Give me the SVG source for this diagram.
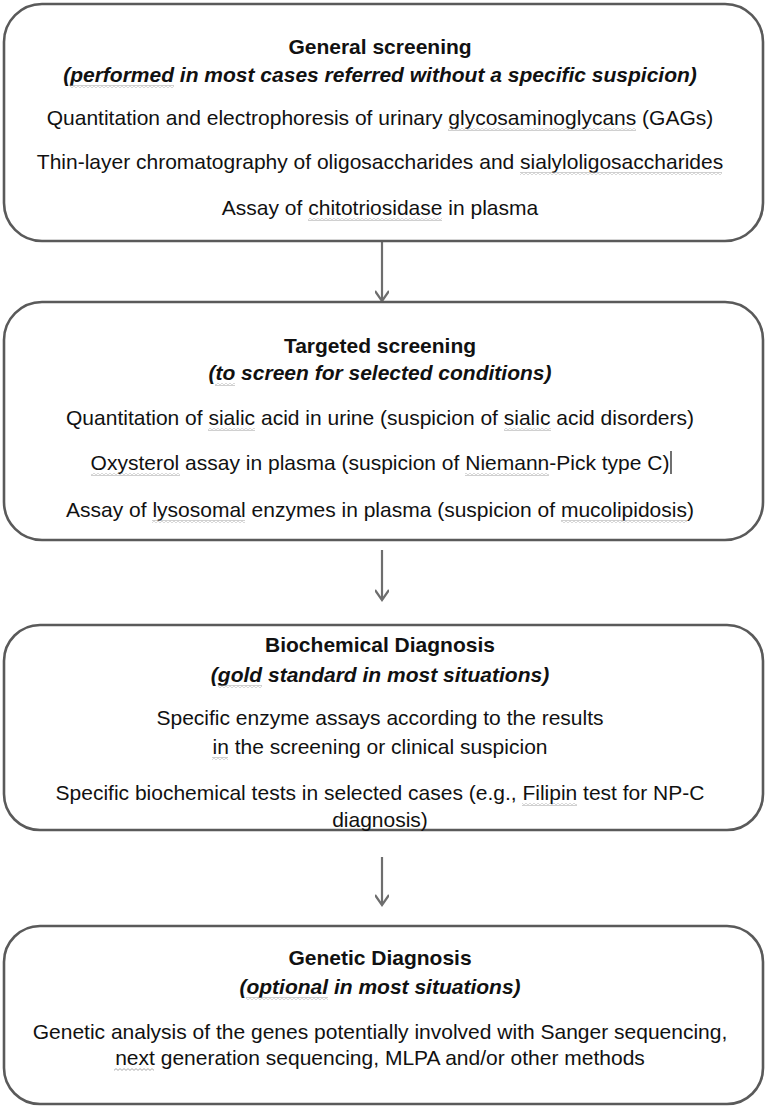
<svg xmlns="http://www.w3.org/2000/svg" width="769" height="1109" viewBox="0 0 769 1109">
<style>
.box{fill:#fff;stroke:#5a5a5a;stroke-width:2.6}
.t{font-family:"Liberation Sans",Arial,sans-serif;font-size:21px;fill:#111;text-anchor:middle}
.h{font-weight:bold}
.i{font-weight:bold;font-style:italic}
.conn{stroke:#6e6e6e;stroke-width:2.2;fill:none}
.sq{fill:url(#wavy)}
</style>
<defs>
<pattern id="wavy" patternUnits="userSpaceOnUse" width="4" height="3">
<path d="M0 0.6 L2 2.4 L4 0.6" fill="none" stroke="#a0a0a0" stroke-width="0.9"/>
</pattern>
<marker id="ah" markerWidth="16" markerHeight="14" refX="14" refY="7" orient="auto" markerUnits="userSpaceOnUse">
<path d="M4 0 L14 7 L4 14" fill="none" stroke="#6e6e6e" stroke-width="2.2"/>
</marker>
</defs>
<rect width="769" height="1109" fill="#fff"/>

<g id="connectors">
<line class="conn" x1="382" y1="241" x2="382" y2="301" marker-end="url(#ah)"/>
<line class="conn" x1="382" y1="550" x2="382" y2="600" marker-end="url(#ah)"/>
<line class="conn" x1="382" y1="857" x2="382" y2="905" marker-end="url(#ah)"/>
</g>

<g id="general-screening">
<rect class="box" x="4" y="4" width="759" height="237" rx="38" ry="38"/>
<text class="t h" x="380" y="54">General screening</text>
<text class="t i" x="380" y="82">(performed in most cases referred without a specific suspicion)</text>
<text class="t" x="380" y="125">Quantitation and electrophoresis of urinary glycosaminoglycans (GAGs)</text>
<text class="t" x="380" y="169">Thin-layer chromatography of oligosaccharides and sialyloligosaccharides</text>
<text class="t" x="380" y="215">Assay of chitotriosidase in plasma</text>
<rect class="sq" x="70" y="85" width="104" height="3"/>
<rect class="sq" x="448" y="128" width="188" height="3"/>
<rect class="sq" x="520" y="172" width="202" height="3"/>
<rect class="sq" x="308" y="218" width="134" height="3"/>
</g>

<g id="targeted-screening">
<rect class="box" x="4" y="302" width="759" height="238" rx="38" ry="38"/>
<text class="t h" x="380" y="353">Targeted screening</text>
<text class="t i" x="380" y="380">(to screen for selected conditions)</text>
<text class="t" x="380" y="425">Quantitation of sialic acid in urine (suspicion of sialic acid disorders)</text>
<text class="t" x="380" y="470">Oxysterol assay in plasma (suspicion of Niemann-Pick type C)</text>
<text class="t" x="380" y="517">Assay of lysosomal enzymes in plasma (suspicion of mucolipidosis)</text>
<line x1="671" y1="451" x2="671" y2="474" stroke="#111" stroke-width="1.2"/>
<rect class="sq" x="215" y="383" width="20" height="3"/>
<rect class="sq" x="208" y="428" width="47" height="3"/>
<rect class="sq" x="504" y="428" width="47" height="3"/>
<rect class="sq" x="91" y="473" width="89" height="3"/>
<rect class="sq" x="465" y="473" width="84" height="3"/>
<rect class="sq" x="152" y="520" width="93" height="3"/>
<rect class="sq" x="561" y="520" width="126" height="3"/>
</g>

<g id="biochemical-diagnosis">
<rect class="box" x="4" y="625" width="759" height="205" rx="36" ry="36"/>
<text class="t h" x="380" y="652">Biochemical Diagnosis</text>
<text class="t i" x="380" y="682">(gold standard in most situations)</text>
<text class="t" x="380" y="725">Specific enzyme assays according to the results</text>
<text class="t" x="380" y="754">in the screening or clinical suspicion</text>
<text class="t" x="380" y="800">Specific biochemical tests in selected cases (e.g., Filipin test for NP-C</text>
<text class="t" x="380" y="827">diagnosis)</text>
<rect class="sq" x="218" y="685" width="44" height="3"/>
<rect class="sq" x="212" y="757" width="16" height="3"/>
<rect class="sq" x="522" y="803" width="55" height="3"/>
</g>

<g id="genetic-diagnosis">
<rect class="box" x="4" y="926" width="759" height="178" rx="36" ry="36"/>
<text class="t h" x="380" y="965">Genetic Diagnosis</text>
<text class="t i" x="380" y="994">(optional in most situations)</text>
<text class="t" x="380" y="1039">Genetic analysis of the genes potentially involved with Sanger sequencing,</text>
<text class="t" x="380" y="1065">next generation sequencing, MLPA and/or other methods</text>
<rect class="sq" x="246" y="997" width="82" height="3"/>
<rect class="sq" x="114" y="1068" width="40" height="3"/>
</g>
</svg>
